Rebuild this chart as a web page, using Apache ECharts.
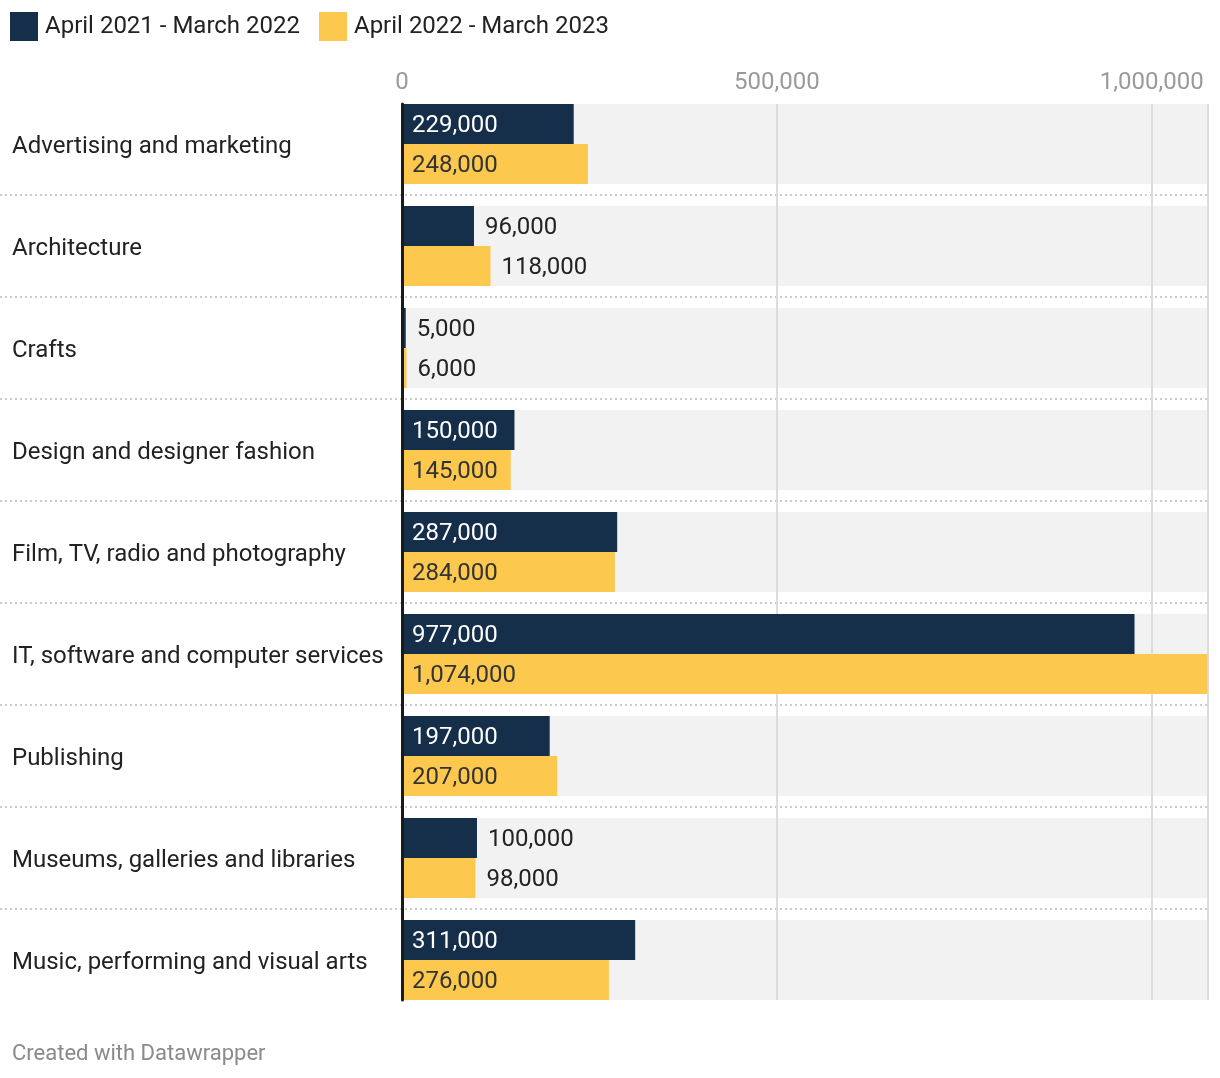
<!DOCTYPE html>
<html>
<head>
<meta charset="utf-8">
<script src="https://cdn.jsdelivr.net/npm/echarts@6/dist/echarts.min.js"></script>
<style>
html,body{margin:0;padding:0;background:#fff;}
#chart{width:1220px;height:1078px;}
</style>
</head>
<body>
<div id="chart"></div>
<script>
var categories = [
  'Advertising and marketing',
  'Architecture',
  'Crafts',
  'Design and designer fashion',
  'Film, TV, radio and photography',
  'IT, software and computer services',
  'Publishing',
  'Museums, galleries and libraries',
  'Music, performing and visual arts'
];
var seriesNames = ['April 2021 - March 2022', 'April 2022 - March 2023'];
var values2021 = [229000, 96000, 5000, 150000, 287000, 977000, 197000, 100000, 311000];
var values2022 = [248000, 118000, 6000, 145000, 284000, 1074000, 207000, 98000, 276000];
var axisMax = 1075000;
var tickInterval = 500000;

var NAVY = '#152e4a';
var YELLOW = '#fcc84e';
var FONT = 'Roboto';

function fmt(v){ return v.toLocaleString('en-US'); }

function barData(vals, insideColor){
  return vals.map(function(v){
    var inside = v >= 140000;
    return {
      value: v,
      label: inside
        ? {position: 'insideLeft', distance: 10, color: insideColor}
        : {position: 'right', distance: 11, color: '#222'}
    };
  });
}

var bgData = categories.map(function(){ return axisMax; });
// separator rows: all but the last category (lines between rows only)
var sepCategories = categories.slice(0, categories.length - 1);

var chart = echarts.init(document.getElementById('chart'), null, {renderer: 'canvas'});
chart.setOption({
  animation: false,
  textStyle: {fontFamily: FONT},
  legend: {
    left: 5, top: 7,
    icon: 'rect', itemWidth: 28, itemHeight: 29, itemGap: 19,
    textStyle: {fontSize: 24, color: '#222', fontFamily: FONT, padding: [3, 0, 0, 2]},
    data: seriesNames
  },
  title: {
    text: 'Created with Datawrapper',
    left: 7, bottom: 8,
    textStyle: {fontSize: 22, color: '#8a8a8a', fontWeight: 'normal', fontFamily: FONT}
  },
  grid: [
    {left: 0, right: 12, top: 93, bottom: 169},
    {left: 402, right: 12, top: 93, bottom: 67},
    {left: 402, right: 12, top: 104, bottom: 78}
  ],
  xAxis: [
    {gridIndex: 0, type: 'value', show: false, min: 0, max: 1},
    {gridIndex: 1, type: 'value', show: false, min: 0, max: axisMax},
    {gridIndex: 1, type: 'value', show: false, min: 0, max: axisMax},
    {gridIndex: 2, type: 'value', position: 'top', min: 0, max: axisMax, interval: tickInterval, z: 2,
      axisLine: {show: false}, axisTick: {show: false},
      axisLabel: {color: '#9a9a9a', fontSize: 24, fontFamily: FONT, margin: 9,
        formatter: function(v){ return fmt(v); }},
      splitLine: {show: true, lineStyle: {color: '#dcdcdc', width: 2}}
    }
  ],
  yAxis: [
    {gridIndex: 0, type: 'category', inverse: true, data: sepCategories,
      axisLine: {show: false}, axisTick: {show: false}, axisLabel: {show: false},
      splitLine: {show: true, interval: function(i){ return i > 0; },
        lineStyle: {color: '#cccccc', width: 2, type: [2, 3]}}
    },
    {gridIndex: 1, type: 'category', inverse: true, data: categories,
      axisLine: {show: false}, axisTick: {show: false}, splitLine: {show: false},
      axisLabel: {align: 'left', margin: 390, color: '#222', fontSize: 24, fontFamily: FONT,
        formatter: function(v){ return '{a|' + v + '}'; },
        rich: {a: {color: '#222', fontSize: 24, fontFamily: FONT, padding: [5, 0, 0, 0]}}
      }
    },
    {gridIndex: 1, type: 'category', inverse: true, data: categories, show: false},
    {gridIndex: 2, type: 'value', min: 0, max: 1, z: 5,
      axisLine: {show: true, lineStyle: {color: '#1a1a1a', width: 3}},
      axisTick: {show: false}, axisLabel: {show: false}, splitLine: {show: false}
    }
  ],
  series: [
    {
      name: 'bg', type: 'bar', xAxisIndex: 2, yAxisIndex: 2, z: 1, silent: true,
      barWidth: 80, data: bgData, itemStyle: {color: '#f2f2f2'}, legendHoverLink: false
    },
    {
      name: seriesNames[0], type: 'bar', xAxisIndex: 1, yAxisIndex: 1, z: 3,
      barWidth: 40, barGap: '0%',
      itemStyle: {color: NAVY},
      label: {show: true, fontSize: 24, fontFamily: FONT, offset: [0, 2],
        formatter: function(p){ return fmt(p.value); }},
      data: barData(values2021, '#ffffff')
    },
    {
      name: seriesNames[1], type: 'bar', xAxisIndex: 1, yAxisIndex: 1, z: 3,
      barWidth: 40, barGap: '0%',
      itemStyle: {color: YELLOW},
      label: {show: true, fontSize: 24, fontFamily: FONT, offset: [0, 2],
        formatter: function(p){ return fmt(p.value); }},
      data: barData(values2022, '#333333')
    }
  ]
});
</script>
</body>
</html>
